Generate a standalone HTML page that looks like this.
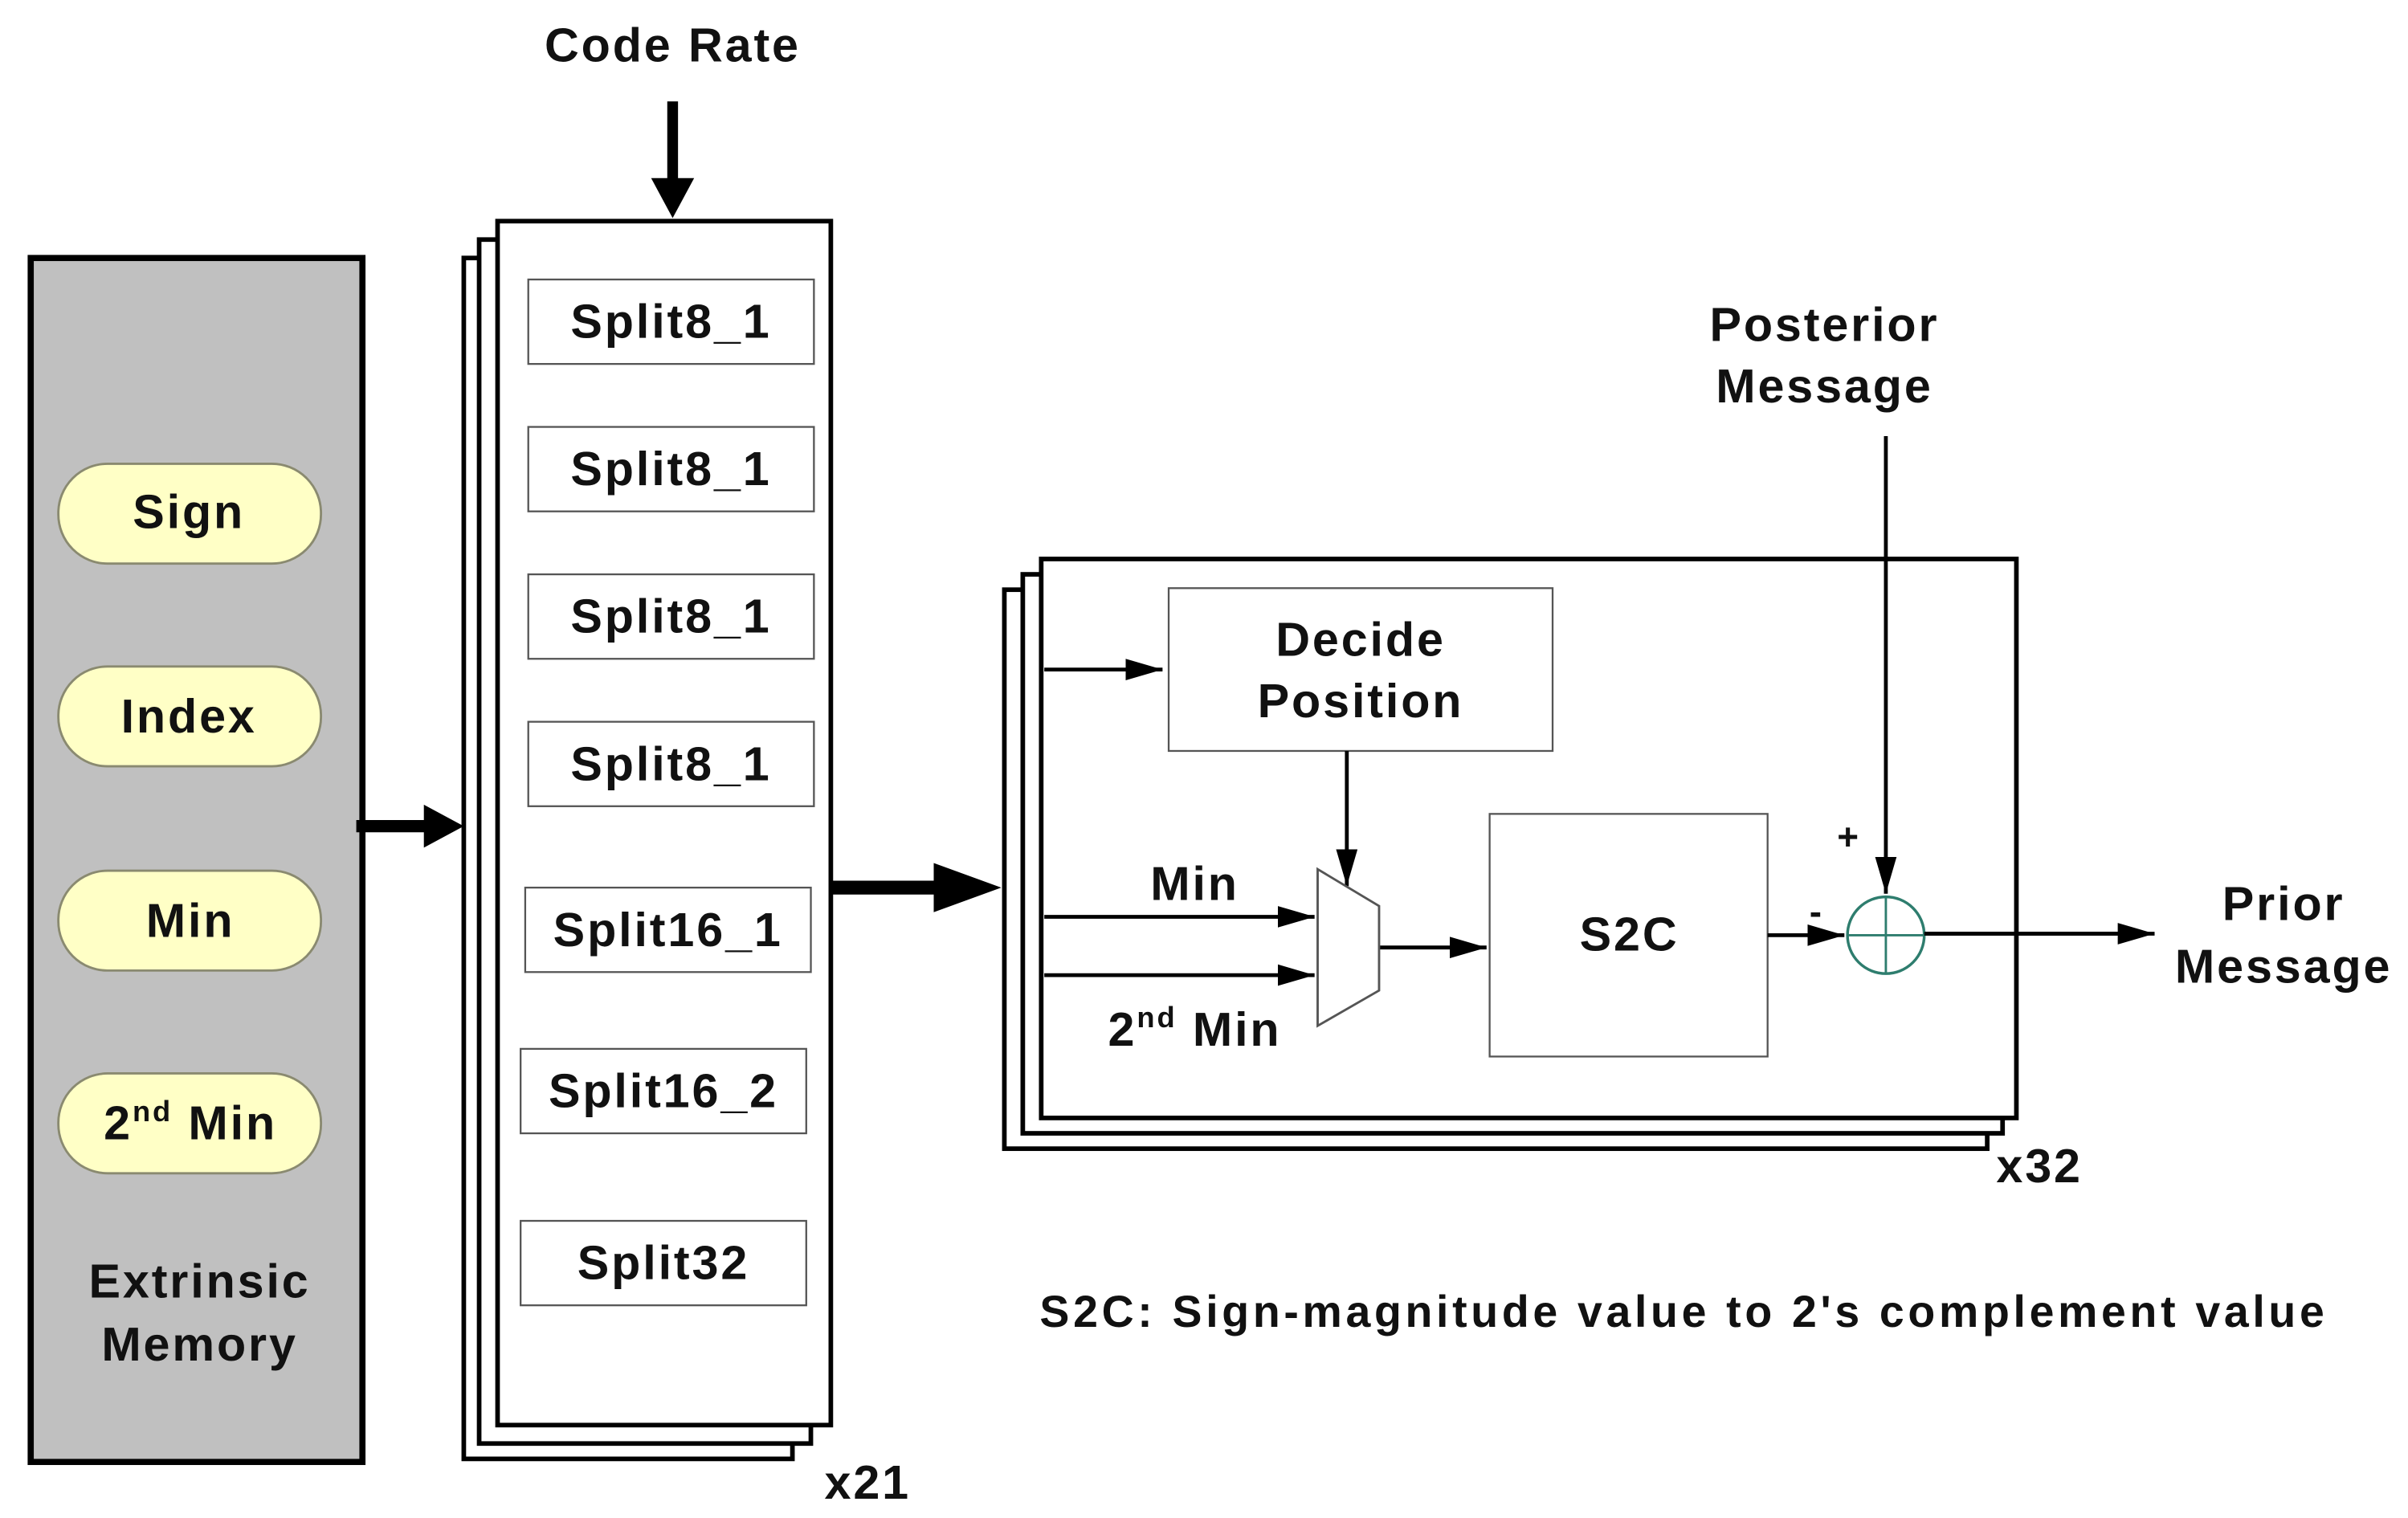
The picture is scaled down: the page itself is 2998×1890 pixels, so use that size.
<!DOCTYPE html>
<html><head><meta charset="utf-8"><style>
html,body{margin:0;padding:0;background:#fff;}
svg{display:block;}
text{font-family:"Liberation Sans",Arial,sans-serif;font-weight:bold;fill:#111;letter-spacing:1.5px;}
</style></head><body>
<svg width="2998" height="1890" viewBox="0 0 1568 988.5" xmlns="http://www.w3.org/2000/svg">
<defs>
<marker id="s" viewBox="0 0 10 10" markerWidth="24" markerHeight="14" refX="10" refY="5" orient="auto" markerUnits="userSpaceOnUse" preserveAspectRatio="none"><path d="M0,0 L10,5 L0,10 z" fill="#000"/></marker>
</defs>
<rect x="20" y="168" width="216" height="784" fill="#c0c0c0" stroke="#000" stroke-width="4"/>
<g fill="#ffffc6" stroke="#8a8a70" stroke-width="1.5">
<rect x="38" y="302" width="171" height="65" rx="32"/>
<rect x="38" y="434" width="171" height="65" rx="32"/>
<rect x="38" y="567" width="171" height="65" rx="32"/>
<rect x="38" y="699" width="171" height="65" rx="32"/>
</g>
<g font-size="31" text-anchor="middle">
<text x="123" y="344">Sign</text>
<text x="123" y="477">Index</text>
<text x="124" y="610">Min</text>
<text x="124" y="742">2<tspan font-size="19" dy="-12">nd</tspan><tspan dy="12"> Min</tspan></text>
<text x="130" y="845">Extrinsic</text>
<text x="130" y="886">Memory</text>
</g>
<line x1="232" y1="538" x2="278" y2="538" stroke="#000" stroke-width="8"/>
<path d="M276,524 L302,538 L276,552 z" fill="#000"/>
<g fill="#fff" stroke="#000" stroke-width="3">
<rect x="302" y="168" width="214" height="782"/>
<rect x="312" y="156" width="216" height="784"/>
<rect x="324" y="144" width="217" height="784"/>
</g>
<g fill="#fff" stroke="#555" stroke-width="1.2">
<rect x="344" y="182" width="186" height="55"/>
<rect x="344" y="278" width="186" height="55"/>
<rect x="344" y="374" width="186" height="55"/>
<rect x="344" y="470" width="186" height="55"/>
<rect x="342" y="578" width="186" height="55"/>
<rect x="339" y="683" width="186" height="55"/>
<rect x="339" y="795" width="186" height="55"/>
</g>
<g font-size="31" text-anchor="middle">
<text x="437" y="220">Split8_1</text>
<text x="437" y="316">Split8_1</text>
<text x="437" y="412">Split8_1</text>
<text x="437" y="508">Split8_1</text>
<text x="435" y="616">Split16_1</text>
<text x="432" y="721">Split16_2</text>
<text x="432" y="833">Split32</text>
<text x="438" y="40">Code Rate</text>
<text x="565" y="976">x21</text>
<text x="1328" y="770">x32</text>
</g>
<line x1="438" y1="66" x2="438" y2="118" stroke="#000" stroke-width="7"/>
<path d="M424,116 L438,142 L452,116 z" fill="#000"/>
<line x1="541" y1="578" x2="612" y2="578" stroke="#000" stroke-width="9"/>
<path d="M608,562 L652,578 L608,594 z" fill="#000"/>
<g fill="#fff" stroke="#000" stroke-width="3">
<rect x="654" y="384" width="640" height="364"/>
<rect x="666" y="374" width="638" height="364"/>
<rect x="678" y="364" width="635" height="364"/>
</g>
<rect x="761" y="383" width="250" height="106" fill="#fff" stroke="#555" stroke-width="1.2"/>
<text x="886" y="427" font-size="31" text-anchor="middle">Decide</text>
<text x="886" y="467" font-size="31" text-anchor="middle">Position</text>
<rect x="970" y="530" width="181" height="158" fill="#fff" stroke="#555" stroke-width="1.2"/>
<text x="1061" y="619" font-size="31" text-anchor="middle">S2C</text>
<g stroke="#000" stroke-width="2.5" marker-end="url(#s)">
<line x1="680" y1="436" x2="757" y2="436"/>
<line x1="877" y1="489" x2="877" y2="577"/>
<line x1="680" y1="597" x2="856" y2="597"/>
<line x1="680" y1="635" x2="856" y2="635"/>
<line x1="898" y1="617" x2="968" y2="617"/>
<line x1="1151" y1="609" x2="1201" y2="609"/>
<line x1="1228" y1="284" x2="1228" y2="582"/>
<line x1="1253" y1="608" x2="1403" y2="608"/>
</g>
<path d="M858,566 L898,590 L898,645 L858,668 z" fill="#fff" stroke="#555" stroke-width="1.5"/>
<circle cx="1228" cy="609" r="25" fill="#fff" stroke="#2e7d6e" stroke-width="1.8"/>
<line x1="1203" y1="609" x2="1253" y2="609" stroke="#2e7d6e" stroke-width="1.5"/>
<line x1="1228" y1="584" x2="1228" y2="634" stroke="#2e7d6e" stroke-width="1.5"/>
<line x1="1253" y1="608" x2="1380" y2="608" stroke="#000" stroke-width="2.5"/>
<g font-size="31" text-anchor="middle">
<text x="778" y="586">Min</text>
<text x="778" y="681">2<tspan font-size="19" dy="-12">nd</tspan><tspan dy="12"> Min</tspan></text>
<text x="1188" y="222">Posterior</text>
<text x="1188" y="262">Message</text>
<text x="1487" y="599">Prior</text>
<text x="1487" y="640">Message</text>
<text x="1204" y="553" font-size="24">+</text>
<text x="1183" y="602" font-size="24">-</text>
</g>
<text x="677" y="864" font-size="29" textLength="838" lengthAdjust="spacing">S2C: Sign-magnitude value to 2's complement value</text>
</svg>
</body></html>
